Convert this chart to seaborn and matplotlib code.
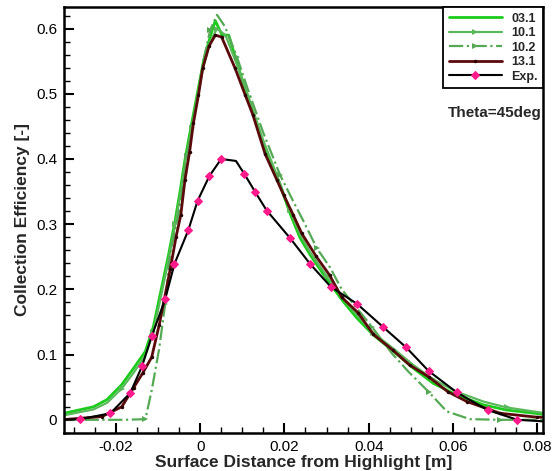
import numpy as np
import matplotlib
matplotlib.use("Agg")
import matplotlib.pyplot as plt
from matplotlib.ticker import MultipleLocator, FuncFormatter
import seaborn as sns

# --- data ---
x_031 = [-0.0330, -0.0253, -0.0221, -0.0186, -0.0158, -0.0130, -0.0111, -0.0095, -0.0075,
         -0.0059, -0.0047, -0.0036, -0.0020, 0.0008, 0.0024, 0.0036, 0.0052, 0.0068,
         0.0087, 0.0115, 0.0150, 0.0190, 0.0213, 0.0237, 0.0261, 0.0301, 0.0340,
         0.0372, 0.0411, 0.0459, 0.0506, 0.0553, 0.0609, 0.0672, 0.0727, 0.0820]
y_031 = [0.009, 0.020, 0.031, 0.054, 0.079, 0.105, 0.143, 0.192, 0.253,
         0.307, 0.353, 0.399, 0.455, 0.550, 0.588, 0.612, 0.590, 0.590,
         0.548, 0.491, 0.424, 0.360, 0.317, 0.279, 0.253, 0.215, 0.181,
         0.156, 0.130, 0.105, 0.079, 0.056, 0.038, 0.023, 0.015, 0.008]

x_101 = [-0.0330, -0.0253, -0.0221, -0.0186, -0.0158, -0.0130, -0.0111, -0.0095, -0.0075,
         -0.0059, -0.0047, -0.0036, -0.0020, 0.0008, 0.0024, 0.0040, 0.0060, 0.0087,
         0.0115, 0.0150, 0.0190, 0.0213, 0.0237, 0.0261, 0.0301, 0.0340, 0.0380,
         0.0411, 0.0459, 0.0506, 0.0553, 0.0609, 0.0672, 0.0727, 0.0820]
y_101 = [0.006, 0.016, 0.026, 0.048, 0.072, 0.099, 0.135, 0.183, 0.245,
         0.300, 0.345, 0.392, 0.448, 0.543, 0.580, 0.600, 0.590, 0.545,
         0.495, 0.428, 0.362, 0.322, 0.285, 0.257, 0.220, 0.185, 0.155,
         0.133, 0.109, 0.084, 0.062, 0.043, 0.028, 0.019, 0.010]

x_102 = [-0.0330, -0.0250, -0.0180, -0.0130, -0.0115, -0.0097, -0.0083, -0.0071, -0.0051,
         -0.0032, -0.0008, 0.0008, 0.0024, 0.0040, 0.0059, 0.0087, 0.0111, 0.0150,
         0.0190, 0.0221, 0.0245, 0.0277, 0.0308, 0.0336, 0.0407, 0.0455, 0.0494,
         0.0542, 0.0585, 0.0640, 0.0712, 0.0780, 0.0820]
y_102 = [0.000, 0.000, 0.000, 0.001, 0.045, 0.110, 0.178, 0.256, 0.317,
         0.404, 0.491, 0.552, 0.598, 0.621, 0.603, 0.557, 0.511, 0.440,
         0.375, 0.335, 0.305, 0.263, 0.234, 0.200, 0.143, 0.102, 0.074,
         0.043, 0.013, 0.001, 0.000, 0.000, 0.000]

x_131 = [-0.0330, -0.0233, -0.0186, -0.0158, -0.0136, -0.0115, -0.0097, -0.0085, -0.0071,
         -0.0057, -0.0046, -0.0036, -0.0025, -0.0016, -0.0004, 0.0006, 0.0021, 0.0036,
         0.0051, 0.0083, 0.0107, 0.0125, 0.0154, 0.0182, 0.0198, 0.0221, 0.0241,
         0.0275, 0.0307, 0.0336, 0.0375, 0.0411, 0.0457, 0.0497, 0.0542, 0.0588,
         0.0633, 0.0712, 0.0799, 0.0830]
y_131 = [0.000, 0.005, 0.020, 0.049, 0.072, 0.096, 0.146, 0.185, 0.231,
         0.281, 0.314, 0.368, 0.411, 0.455, 0.498, 0.539, 0.573, 0.590,
         0.587, 0.539, 0.498, 0.468, 0.408, 0.368, 0.345, 0.314, 0.286,
         0.251, 0.222, 0.188, 0.164, 0.131, 0.107, 0.084, 0.066, 0.043,
         0.028, 0.010, 0.004, 0.004]

x_exp = [-0.0330, -0.0285, -0.0213, -0.0166, -0.0138, -0.0115, -0.0083, -0.0061, -0.0028,
         -0.0006, 0.0022, 0.0050, 0.0085, 0.0105, 0.0131, 0.0158, 0.0213, 0.0261,
         0.0310, 0.0372, 0.0433, 0.0489, 0.0542, 0.0609, 0.0682, 0.0753, 0.0830]
y_exp = [0.000, 0.001, 0.010, 0.041, 0.082, 0.128, 0.185, 0.239, 0.291,
         0.336, 0.374, 0.400, 0.397, 0.377, 0.349, 0.321, 0.279, 0.239,
         0.204, 0.178, 0.143, 0.111, 0.075, 0.042, 0.015, 0.000, -0.003]
exp_marks = [i for i in range(1, len(x_exp) - 1) if i != 12]

sns.set_theme(style="ticks")
plt.rcParams["font.family"] = ["Liberation Sans", "DejaVu Sans"]

fig = plt.figure(figsize=(5.52, 4.71), dpi=100)
ax = fig.add_axes([0.116, 0.081, 0.868, 0.904])

sns.lineplot(x=x_031, y=y_031, ax=ax, sort=False, estimator=None,
             color="#1ccc1c", lw=2.0, label="03.1")
sns.lineplot(x=x_101, y=y_101, ax=ax, sort=False, estimator=None,
             color="#5cb85c", lw=1.6, marker=">", markersize=4, markevery=3,
             markeredgewidth=0, label="10.1")
sns.lineplot(x=x_102, y=y_102, ax=ax, sort=False, estimator=None,
             color="#55a955", lw=1.6, linestyle="-.", marker=">", markersize=4,
             markevery=3, markeredgewidth=0, label="10.2")
sns.lineplot(x=x_131, y=y_131, ax=ax, sort=False, estimator=None,
             color="#5a0a0a", lw=2.0, marker="o", markersize=2.5,
             markerfacecolor="#2a0000", markeredgewidth=0, label="13.1")
sns.lineplot(x=x_exp, y=y_exp, ax=ax, sort=False, estimator=None,
             color="black", lw=1.5, marker="D", markersize=4, markevery=exp_marks,
             markerfacecolor="#ff1a8c", markeredgecolor="#ff1a8c", label="Exp.")

ax.set_xlim(-0.0323, 0.0814)
ax.set_ylim(-0.02, 0.633)

fmt = FuncFormatter(lambda v, p: "0" if abs(v) < 1e-9 else f"{v:g}")
ax.xaxis.set_major_locator(MultipleLocator(0.02))
ax.xaxis.set_minor_locator(MultipleLocator(0.005))
ax.yaxis.set_major_locator(MultipleLocator(0.1))
ax.yaxis.set_minor_locator(MultipleLocator(0.02))
ax.xaxis.set_major_formatter(fmt)
ax.yaxis.set_major_formatter(fmt)
ax.tick_params(which="both", direction="in", top=False, right=False,
               labelsize=11, colors="black", pad=5)
ax.tick_params(which="major", length=7, width=1.5)
ax.tick_params(which="minor", length=4, width=1.0)
for s in ax.spines.values():
    s.set_linewidth(1.8)
    s.set_color("black")

ax.set_xlabel("Surface Distance from Highlight [m]", fontsize=12.5,
              fontweight="bold", labelpad=1)
ax.set_ylabel("Collection Efficiency [-]", fontsize=12.5, fontweight="bold",
              labelpad=4)

leg = ax.legend(loc="upper right", bbox_to_anchor=(1.0, 1.0), fancybox=False,
                framealpha=1, edgecolor="black", handlelength=4.3,
                borderaxespad=0, fontsize=9, labelspacing=0.2,
                handletextpad=0.7, borderpad=0.45)
leg.get_frame().set_linewidth(1.3)
for t in leg.get_texts():
    t.set_fontweight("bold")

ax.text(0.997, 0.751, "Theta=45deg", transform=ax.transAxes, ha="right",
        va="center", fontsize=11, fontweight="bold")

fig.savefig("out.png", dpi=100)
